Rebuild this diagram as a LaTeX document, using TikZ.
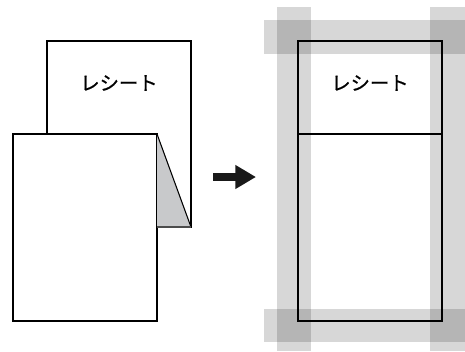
\documentclass[tikz,border=0pt]{standalone}
\usepackage{fontspec}
\newfontfamily\jpfont[FakeBold=0.8]{Noto Sans CJK JP}
\usetikzlibrary{arrows.meta}
\definecolor{foldgray}{RGB}{200,201,203}
\tikzstyle{sheet}=[draw=black, fill=white, line width=0.8pt]
\tikzstyle{label}=[font=\jpfont\fontsize{14.5}{16}\selectfont, inner sep=0pt]
\tikzset{band/.style={fill=black, fill opacity=0.155, draw=none}}

\begin{document}
\begin{tikzpicture}[x=0.75pt,y=-0.75pt]
    \useasboundingbox (0,0) rectangle (465,351);
    % left: receipt behind, paper in front, folded corner
    \draw[sheet] (47,41) rectangle (191,227);
    \node[label] (backtext) at (119,83) {レシート};
    \draw[sheet] (13,134) rectangle (157,321);
    \fill[foldgray] (157,134) -- (191,227) -- (157,227) -- cycle;
    \draw[line width=0.8pt] (157,134) -- (191,227);
    \draw[line width=0.8pt, black!70] (157,227) -- (191,227);
    % arrow
    \coordinate (from) at (213,177);
    \coordinate (to) at (256,177);
    \draw[line width=6.5pt, -{Triangle[length=15.5pt,width=17pt]}, black!90] (from) -- (to);
    % right: joined sheet
    \draw[line width=1pt] (298,41) rectangle (442,321);
    \draw[line width=0.8pt] (298,134) -- (442,134);
    \node[label] (fronttext) at (370,83) {レシート};
    % shaded bands
    \fill[band] (277,7) rectangle (311,351);
    \fill[band] (430,7) rectangle (465,351);
    \fill[band] (264,20) rectangle (465,54);
    \fill[band] (264,309) rectangle (465,342);
  \end{tikzpicture}
\end{document}
